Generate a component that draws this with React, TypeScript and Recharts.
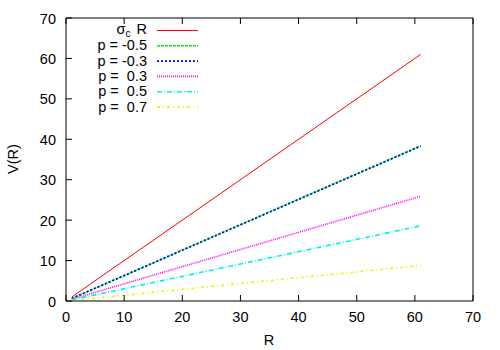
import React from 'react';
import { LineChart, Line, XAxis, YAxis } from 'recharts';

const rValues = [1, 61];
const sigmaR = [1, 61];
const pMinus05 = [0.63, 38.4];
const pMinus03 = [0.63, 38.3];
const pPlus03 = [0.43, 25.9];
const pPlus05 = [0.3, 18.6];
const pPlus07 = [0.14, 8.8];

const xTicks = [0, 10, 20, 30, 40, 50, 60, 70];
const yTicks = [0, 10, 20, 30, 40, 50, 60, 70];

const seriesKeys = ['s', 'pm05', 'pm03', 'pp03', 'pp05', 'pp07'];
const seriesNames = ['σc R', 'p = -0.5', 'p = -0.3', 'p =  0.3', 'p =  0.5', 'p =  0.7'];
const seriesColors = ['#ff0000', '#00ee00', '#0000ff', '#ff00ff', '#00f0f0', '#f0f000'];
const seriesDash = ['', '3 1', '2 2', '1 1', '5 2 1 2', '3 3 1 3'];
const seriesWidth = [1, 1.6, 1.6, 1.6, 1.6, 1.6];

const seriesValues = [sigmaR, pMinus05, pMinus03, pPlus03, pPlus05, pPlus07];

const data = rValues.map((r, i) => {
  const row: Record<string, number> = { R: r };
  seriesKeys.forEach((k, j) => {
    row[k] = seriesValues[j][i];
  });
  return row;
});

const FONT = '"Liberation Sans", Arial, Helvetica, sans-serif';
const FS = 14.5;

const BottomTick = (props: any) => {
  const { x, y, payload } = props;
  return (
    <g>
      <line x1={x} x2={x} y1={y} y2={y - 6} stroke="#000" strokeWidth={1} />
      <text x={x} y={y + 21} textAnchor="middle" fontSize={FS} fontFamily={FONT} fill="#000">
        {payload.value}
      </text>
    </g>
  );
};

const LeftTick = (props: any) => {
  const { x, y, payload } = props;
  return (
    <g>
      <line x1={x} x2={x + 6} y1={y} y2={y} stroke="#000" strokeWidth={1} />
      <text x={x - 10} y={y + 5.5} textAnchor="end" fontSize={FS} fontFamily={FONT} fill="#000">
        {payload.value}
      </text>
    </g>
  );
};

const TopTick = (props: any) => {
  const { x, y } = props;
  return <line x1={x} x2={x} y1={y} y2={y + 6} stroke="#000" strokeWidth={1} />;
};

const RightTick = (props: any) => {
  const { x, y } = props;
  return <line x1={x} x2={x - 6} y1={y} y2={y} stroke="#000" strokeWidth={1} />;
};

export default function App() {
  const legendTop = 30.5;
  const legendStep = 15.3;
  return (
    <div style={{ position: 'absolute', left: 0, top: 0, width: 500, height: 350, background: '#fff' }}>
      <LineChart width={500} height={350} data={data} margin={{ top: 17, right: 26, bottom: 48, left: 65 }}>
        <XAxis
          dataKey="R"
          type="number"
          domain={[0, 70]}
          ticks={xTicks}
          height={1}
          tickSize={0}
          tickMargin={0}
          tick={<BottomTick />}
          axisLine={{ stroke: '#000', strokeWidth: 1 }}
          interval={0}
        />
        <XAxis
          xAxisId="top"
          orientation="top"
          dataKey="R"
          type="number"
          domain={[0, 70]}
          ticks={xTicks}
          height={1}
          tickSize={0}
          tickMargin={0}
          tick={<TopTick />}
          axisLine={{ stroke: '#000', strokeWidth: 1 }}
          interval={0}
        />
        <YAxis
          type="number"
          domain={[0, 70]}
          ticks={yTicks}
          width={1}
          tickSize={0}
          tickMargin={0}
          tick={<LeftTick />}
          axisLine={{ stroke: '#000', strokeWidth: 1 }}
          interval={0}
        />
        <YAxis
          yAxisId="right"
          orientation="right"
          type="number"
          domain={[0, 70]}
          ticks={yTicks}
          width={1}
          tickSize={0}
          tickMargin={0}
          tick={<RightTick />}
          axisLine={{ stroke: '#000', strokeWidth: 1 }}
          interval={0}
        />
        {seriesKeys.map((k, i) => (
          <Line
            key={k}
            dataKey={k}
            type="linear"
            stroke={seriesColors[i]}
            strokeWidth={seriesWidth[i]}
            strokeDasharray={seriesDash[i] || undefined}
            dot={false}
            activeDot={false}
            isAnimationActive={false}
          />
        ))}
      </LineChart>
      <svg
        width={500}
        height={350}
        style={{ position: 'absolute', left: 0, top: 0, pointerEvents: 'none' }}
      >
        <text
          x={0}
          y={0}
          transform="translate(18,159) rotate(-90)"
          textAnchor="middle"
          fontSize={FS}
          fontFamily={FONT}
          fill="#000"
        >
          V(R)
        </text>
        <text x={269} y={345} textAnchor="middle" fontSize={FS} fontFamily={FONT} fill="#000">
          R
        </text>
        {seriesNames.map((name, i) => {
          const cy = legendTop + i * legendStep;
          return (
            <g key={name}>
              {i === 0 ? (
                <text x={116.5} y={cy + 3.5} textAnchor="start" fontSize={FS} fontFamily={FONT} fill="#000">
                  σ<tspan fontSize={10} dy={2.5}>c</tspan>
                  <tspan x={136.5} dy={-2.5}>R</tspan>
                </text>
              ) : (
                <text
                  x={147}
                  y={cy + 4.5}
                  textAnchor="end"
                  fontSize={FS}
                  fontFamily={FONT}
                  fill="#000"
                  style={{ whiteSpace: 'pre' }}
                >
                  {name}
                </text>
              )}
              <line
                x1={157}
                x2={198}
                y1={cy}
                y2={cy}
                stroke={seriesColors[i]}
                strokeWidth={seriesWidth[i]}
                strokeDasharray={seriesDash[i] || undefined}
              />
            </g>
          );
        })}
      </svg>
    </div>
  );
}
